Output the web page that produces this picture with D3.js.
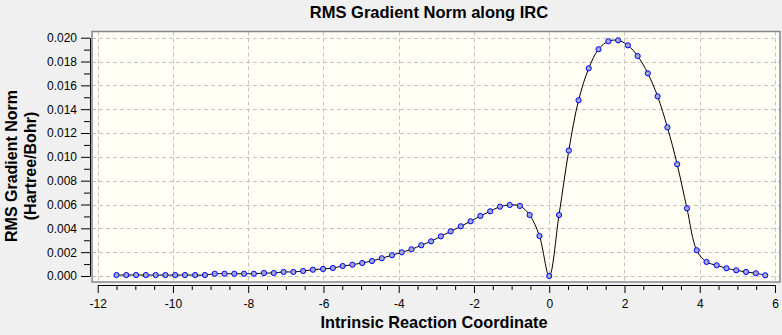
<!DOCTYPE html>
<html>
<head>
<meta charset="utf-8">
<script src="https://cdn.jsdelivr.net/npm/d3@7"></script>
<style>
  body { margin: 0; background: #f0f0f0; }
  svg { display: block; font-family: "Liberation Sans", Arial, sans-serif; }
  .grid line { stroke: #c4c4c4; stroke-dasharray: 4,3; }
  .axis path, .axis line { stroke: #000; }
  .axis text { font-size: 12px; fill: #000; }
</style>
</head>
<body>
<script>
// IRC coordinate / RMS gradient (Hartree/Bohr)
const ircCoord = [
  -11.50, -11.24, -10.98, -10.72, -10.46, -10.20, -9.94, -9.68, -9.41, -9.15,
  -8.89, -8.63, -8.37, -8.11, -7.85, -7.58, -7.32, -7.06, -6.80, -6.54,
  -6.28, -6.01, -5.75, -5.49, -5.23, -4.97, -4.71, -4.45, -4.18, -3.92,
  -3.66, -3.40, -3.14, -2.88, -2.62, -2.35, -2.09, -1.83, -1.57, -1.31,
  -1.05, -0.78, -0.52, -0.26, 0.00,
  0.26, 0.52, 0.78, 1.05, 1.31, 1.57, 1.83, 2.09, 2.35, 2.62,
  2.88, 3.14, 3.40, 3.66, 3.92, 4.18, 4.45, 4.71, 4.97, 5.23, 5.49, 5.74
];
const rmsGrad = [
  0.00008, 0.00008, 0.00008, 0.00008, 0.00008, 0.00008, 0.00008, 0.00008, 0.00008, 0.00008,
  0.00019, 0.00019, 0.00019, 0.00019, 0.00019, 0.00025, 0.00025, 0.00034, 0.00034, 0.00042,
  0.00053, 0.00059, 0.00067, 0.00084, 0.00095, 0.00109, 0.00126, 0.00149, 0.00174, 0.00199,
  0.00224, 0.00258, 0.00291, 0.00333, 0.00375, 0.00417, 0.00459, 0.00504, 0.00543, 0.00582,
  0.00596, 0.00588, 0.00512, 0.00336, 0.00000,
  0.00512, 0.01053, 0.01475, 0.01743, 0.01903, 0.01970, 0.01978, 0.01936, 0.01846, 0.01701,
  0.01508, 0.01248, 0.00938, 0.00568, 0.00216, 0.00118, 0.00090, 0.00065, 0.00048, 0.00034,
  0.00023, 0.00006
];
const xTicks = [-12, -10, -8, -6, -4, -2, 0, 2, 4, 6];
const xMinor = [-11.5, -11, -10.5, -9.5, -9, -8.5, -7.5, -7, -6.5, -5.5, -5, -4.5, -3.5, -3, -2.5,
  -1.5, -1, -0.5, 0.5, 1, 1.5, 2.5, 3, 3.5, 4.5, 5, 5.5];
const yTicks = [0, 0.002, 0.004, 0.006, 0.008, 0.010, 0.012, 0.014, 0.016, 0.018, 0.020];
const yMinor = [0.001, 0.003, 0.005, 0.007, 0.009, 0.011, 0.013, 0.015, 0.017, 0.019];

const data = ircCoord.map((x, i) => ({ x: x, y: rmsGrad[i] }));

const width = 782, height = 335;
const frame = { left: 92, top: 31.5, right: 780, bottom: 282 };

const x = d3.scaleLinear().domain([-12, 6]).range([97.7, 775]);
const y = d3.scaleLinear().domain([0, 0.02]).range([276, 37.7]);

const svg = d3.select('body').append('svg')
  .attr('width', width)
  .attr('height', height);

// plot area
svg.append('rect')
  .attr('x', frame.left).attr('y', frame.top)
  .attr('width', frame.right - frame.left)
  .attr('height', frame.bottom - frame.top)
  .attr('fill', '#fffff5');

const grid = svg.append('g').attr('class', 'grid');
grid.selectAll('.vg').data(xTicks).enter().append('line')
  .attr('x1', d => Math.round(x(d)) + 0.5).attr('x2', d => Math.round(x(d)) + 0.5)
  .attr('y1', frame.top).attr('y2', frame.bottom);
grid.selectAll('.hg').data(yTicks).enter().append('line')
  .attr('x1', frame.left).attr('x2', frame.right)
  .attr('y1', d => Math.round(y(d)) + 0.5).attr('y2', d => Math.round(y(d)) + 0.5);

svg.append('rect')
  .attr('x', frame.left).attr('y', frame.top)
  .attr('width', frame.right - frame.left)
  .attr('height', frame.bottom - frame.top)
  .attr('fill', 'none')
  .attr('stroke', '#868690')
  .attr('stroke-width', 1.5);

// curve + points
const line = d3.line()
  .x(d => x(d.x))
  .y(d => y(d.y))
  .curve(d3.curveCatmullRom.alpha(0.5));

svg.append('path')
  .datum(data)
  .attr('d', line)
  .attr('fill', 'none')
  .attr('stroke', '#000')
  .attr('stroke-width', 1);

svg.selectAll('.pt').data(data).enter().append('circle')
  .attr('class', 'pt')
  .attr('cx', d => x(d.x))
  .attr('cy', d => y(d.y))
  .attr('r', 2.6)
  .attr('fill', '#a0a8cc')
  .attr('stroke', '#0000ff')
  .attr('stroke-width', 1);

// axes
svg.append('g').attr('class', 'axis')
  .attr('transform', 'translate(90,0)')
  .call(d3.axisLeft(y).tickValues(yTicks).tickFormat(d3.format('.3f'))
    .tickSize(9).tickSizeOuter(0).tickPadding(4));
svg.append('g').attr('class', 'axis')
  .attr('transform', 'translate(90,0)')
  .call(d3.axisLeft(y).tickValues(yMinor).tickFormat('').tickSize(6).tickSizeOuter(0))
  .select('.domain').remove();

svg.append('g').attr('class', 'axis')
  .attr('transform', 'translate(0,285)')
  .call(d3.axisBottom(x).tickValues(xTicks).tickFormat(d => String(d))
    .tickSize(8).tickSizeOuter(0).tickPadding(6));
svg.append('g').attr('class', 'axis')
  .attr('transform', 'translate(0,285)')
  .call(d3.axisBottom(x).tickValues(xMinor).tickFormat('').tickSize(5).tickSizeOuter(0))
  .select('.domain').remove();

// titles
svg.append('text')
  .attr('x', 429).attr('y', 18)
  .attr('text-anchor', 'middle')
  .style('font-size', '16.5px').style('font-weight', 'bold')
  .text('RMS Gradient Norm along IRC');

svg.append('text')
  .attr('x', 434).attr('y', 328)
  .attr('text-anchor', 'middle')
  .style('font-size', '16.3px').style('font-weight', 'bold')
  .text('Intrinsic Reaction Coordinate');

const yt = svg.append('text')
  .attr('transform', 'translate(17,166) rotate(-90)')
  .attr('text-anchor', 'middle')
  .style('font-size', '16px').style('font-weight', 'bold');
yt.append('tspan').attr('x', 0).attr('y', 0).text('RMS Gradient Norm');
yt.append('tspan').attr('x', 0).attr('y', 19).text('(Hartree/Bohr)');
</script>
</body>
</html>
